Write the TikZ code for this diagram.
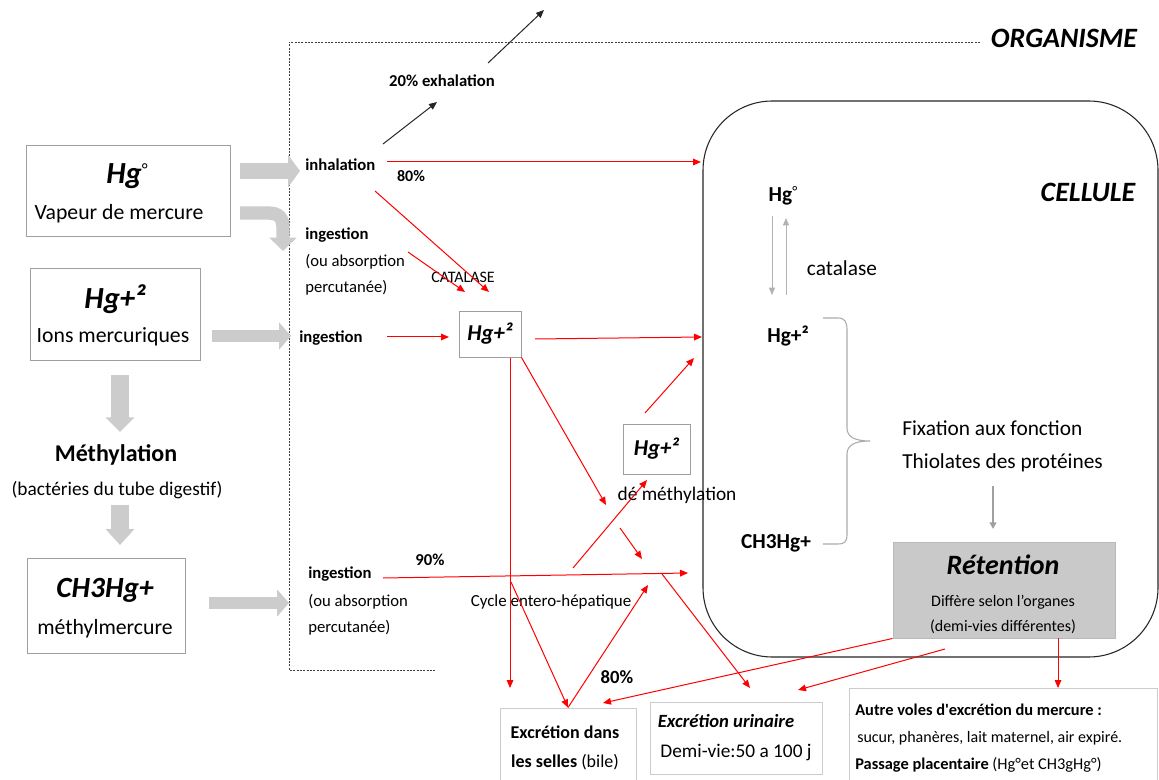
\documentclass[tikz,border=0pt]{standalone}
\usepackage{fontspec}
\setmainfont{Carlito}
\usetikzlibrary{arrows.meta,fit}
\newcommand{\fsz}[1]{\fontsize{#1}{#1}\selectfont}
\tikzset{
 txt/.style={inner sep=0pt, font=\fsz{#1}},
 btxt/.style={inner sep=0pt, font=\fsz{#1}\bfseries},
 bitxt/.style={inner sep=0pt, font=\fsz{#1}\bfseries\itshape},
 boxg/.style={draw=gray!75, line width=0.7pt, inner sep=0pt},
 boxl/.style={draw=gray!40, line width=0.7pt, inner sep=0pt},
 redarr/.style={draw=red, line width=0.75pt, -{Triangle[length=6pt,width=5pt]}},
 blkarr/.style={draw=black!85, line width=0.75pt, -{Triangle[length=6pt,width=5pt]}},
 grayarr/.style={draw=gray!60, line width=0.75pt, -{Triangle[length=5.5pt,width=4.5pt]}},
 blockarr/.style args={#1/#2/#3}{draw=gray!40, line width=#1, -{Triangle[length=#3,width=#2]}},
 orgline/.style={draw=black!75, line width=0.6pt, dash pattern=on 1.5pt off 1pt},
}
\begin{document}
\begin{tikzpicture}[x=0.75pt,y=-0.75pt]
\useasboundingbox (0,0) rectangle (1159,780);
\fill[white] (0,0) rectangle (1159,780);

% ---------- organisme frame ----------
\draw[orgline] (980,42) -- (289,42) -- (289,670) -- (435,670);
\node[bitxt=21pt] (org) at (1064,38) {ORGANISME};

% ---------- cell ----------
\node[fit={(703,101)(1158,657)}, draw=black!85, line width=0.8pt, rounded corners=52pt, inner sep=0pt] (cell) {};
\node[bitxt=21pt] (cellt) at (1088,192) {CELLULE};

% ---------- left boxes ----------
\node[fit={(26,145)(230,236)}, boxg] (b1) {};
\node[inner sep=0pt] (b1a) at (127,176) {\fsz{23pt}\bfseries\itshape Hg\raisebox{6pt}{\fsz{13pt}\normalfont °}};
\node[txt=16.3pt] (b1b) at (119,214) {Vapeur de mercure};

\node[fit={(30,268)(200,360)}, boxg] (b2) {};
\node[bitxt=23pt] (b2a) at (115,299) {Hg+²};
\node[txt=16.3pt] (b2b) at (113,337) {Ions mercuriques};

\node[btxt=18pt] (meth) at (116,455) {Méthylation};
\node[txt=14.5pt] (bact) at (117,490) {(bactéries du tube digestif)};

\node[fit={(27,558)(185,653)}, boxg] (b3) {};
\node[bitxt=22pt] (b3a) at (105,590) {CH3Hg+};
\node[txt=16.3pt] (b3b) at (105,629) {méthylmercure};

% block arrows
\coordinate (ba1s) at (240,171); \coordinate (ba1e) at (300,171);
\draw[blockarr=12pt/24pt/9pt] (ba1s) -- (ba1e);
\coordinate (ba2s) at (240,213); \coordinate (ba2e) at (283,251);
\draw[blockarr=10pt/20pt/10pt] (ba2s) -- (268,213) .. controls (279,213) and (283,218) .. (283,228) -- (ba2e);
\coordinate (ba3s) at (212,336); \coordinate (ba3e) at (291,336);
\draw[blockarr=9pt/20pt/9pt] (ba3s) -- (ba3e);
\coordinate (ba4s) at (209,603); \coordinate (ba4e) at (289,603);
\draw[blockarr=9pt/20pt/9pt] (ba4s) -- (ba4e);
\coordinate (bd1s) at (120,375); \coordinate (bd1e) at (120,432);
\draw[blockarr=13.5pt/21pt/11pt] (bd1s) -- (bd1e);
\coordinate (bd2s) at (120,505); \coordinate (bd2e) at (120,545);
\draw[blockarr=13.5pt/21pt/12pt] (bd2s) -- (bd2e);

% ---------- middle labels ----------
\node[btxt=12.5pt] (exh) at (442,81) {20\% exhalation};
\node[btxt=12.5pt, anchor=west] (inh) at (305,165) {inhalation};
\node[btxt=12pt] (p80a) at (411,176) {80\%};
\node[btxt=12.5pt, anchor=west] (ing1) at (305,235) {ingestion};
\node[txt=12.5pt, anchor=west] (ing1b) at (305,262) {(ou absorption};
\node[txt=12.5pt, anchor=west] (ing1c) at (305,288) {percutanée)};
\node[txt=12pt] (catal) at (463,277) {CATALASE};
\node[btxt=12.5pt, anchor=west] (ing2) at (299,338) {ingestion};

\node[fit={(459,311)(521,357)}, boxg] (hgA) {};
\node[bitxt=17pt] at (hgA) {Hg+²};
\node[fit={(623,424)(690,474)}, boxg] (hgB) {};
\node[bitxt=17pt] at (hgB) {Hg+²};
\node[txt=14.5pt] (demeth) at (677,495) {dé méthylation};

\node[btxt=12.5pt, anchor=west] (ing3) at (308,574) {ingestion};
\node[txt=12.5pt, anchor=west] (ing3b) at (308,602) {(ou absorption};
\node[txt=12.5pt, anchor=west] (ing3c) at (308,628) {percutanée)};
\node[btxt=12.5pt] (p90) at (430,560) {90\%};
\node[txt=12.7pt] (cycle) at (551,602) {Cycle entero-hépatique};
\node[btxt=14pt] (p80b) at (617,677) {80\%};

% ---------- cell contents ----------
\node[inner sep=0pt] (cHg0) at (783,196) {\fsz{16pt}\bfseries Hg\raisebox{4pt}{\fsz{11pt}\normalfont °}};
\node[txt=16pt] (ccat) at (842,268) {catalase};
\node[btxt=16pt] (cHg2) at (788,336) {Hg+²};
\node[btxt=16pt] (cCH3) at (776,543) {CH3Hg+};
\draw[draw=gray!65, line width=0.8pt] (823,318) -- (838,318) .. controls (845,318) and (847,322) .. (847,330) -- (847,428) .. controls (847,437) and (855,441) .. (870,441) coordinate (brtip) .. controls (855,441) and (847,445) .. (847,454) -- (847,535) .. controls (847,541) and (845,544) .. (838,544) -- (823,544);
\node[txt=16pt, anchor=west] (fix1) at (902,428) {Fixation aux fonction};
\node[txt=16pt, anchor=west] (fix2) at (902,463) {Thiolates des protéines};
\coordinate (ga1s) at (772,216); \coordinate (ga1e) at (772,295);
\draw[grayarr] (ga1s) -- (ga1e);
\coordinate (ga2s) at (786,295); \coordinate (ga2e) at (786,218);
\draw[grayarr] (ga2s) -- (ga2e);

\node[fit={(893,542)(1115,638)}, draw=gray!55, fill=gray!42, line width=0.7pt, inner sep=0pt] (ret) {};
\node[bitxt=21pt] (rett) at (1003,565) {Rétention};
\node[txt=12pt] (ret2) at (1003,602) {Diffère selon l’organes};
\node[txt=12pt] (ret3) at (1003,627) {(demi-vies différentes)};
\coordinate (fa1s) at (993,486); \coordinate (fa1e) at (993,529);
\draw[draw=gray!75, line width=1.3pt, -{Triangle[length=5pt,width=5pt]}] (fa1s) -- (fa1e);

% ---------- bottom boxes ----------
\node[fit={(500,708)(636,781)}, boxl] (selles) {};
\node[btxt=13.5pt] (sel1) at (565,732) {Excrétion dans};
\node[inner sep=0pt] (sel2) at (565,762) {\fsz{13.5pt}\textbf{les selles} (bile)};
\node[fit={(650,702)(822,774)}, boxl] (urin) {};
\node[bitxt=14pt] (ur1) at (726,721) {Excrétion urinaire};
\node[txt=14.5pt] (ur2) at (736,752) {Demi-vie:50 a 100 j};
\node[fit={(849,688)(1157,781)}, boxl] (autres) {};
\node[btxt=12.3pt, anchor=west] (au1) at (855,710) {Autre voles d\textquotesingle excrétion du mercure :};
\node[txt=12pt, anchor=west] (au2) at (857,738) {sucur, phanères, lait maternel, air expiré.};
\node[inner sep=0pt, anchor=west] (au3) at (855,765) {\fsz{12.3pt}\textbf{Passage placentaire} (Hg°et CH3gHg°)};

% ---------- black arrows ----------
\coordinate (ex1s) at (383,144); \coordinate (ex1e) at (437,102);
\draw[blkarr] (ex1s) -- (ex1e);
\coordinate (ex2s) at (488,63); \coordinate (ex2e) at (544,10);
\draw[blkarr] (ex2s) -- (ex2e);

% ---------- red arrows ----------
\coordinate (r1s) at (387,162); \coordinate (r1e) at (701,162);
\draw[redarr] (r1s) -- (r1e);
\coordinate (r2s) at (375,191); \coordinate (r2e) at (489,292);
\draw[redarr] (r2s) -- (r2e);
\coordinate (r3s) at (408,252); \coordinate (r3e) at (465,292);
\draw[redarr] (r3s) -- (r3e);
\coordinate (r4s) at (387,337); \coordinate (r4e) at (449,337);
\draw[redarr] (r4s) -- (r4e);
\coordinate (r5s) at (535,339); \coordinate (r5e) at (702,337);
\draw[redarr] (r5s) -- (r5e);
\coordinate (r6s) at (510,358); \coordinate (r6e) at (510,688);
\draw[redarr] (r6s) -- (r6e);
\coordinate (r7e) at (606,505);
\draw[redarr] (hgA.south east) -- (r7e);
\coordinate (r8s) at (645,413); \coordinate (r8e) at (694,358);
\draw[redarr] (r8s) -- (r8e);
\coordinate (r9s) at (573,568); \coordinate (r9e) at (647,480);
\draw[redarr] (r9s) -- (r9e);
\coordinate (r10s) at (620,528); \coordinate (r10e) at (642,559);
\draw[redarr] (r10s) -- (r10e);
\coordinate (r11s) at (383,578); \coordinate (r11e) at (688,573);
\draw[redarr] (r11s) -- (r11e);
\coordinate (r12s) at (511,582);
\draw[redarr] (r12s) -- (selles.north);
\coordinate (r13e) at (648,585);
\draw[redarr] (selles.north) -- (r13e);
\coordinate (r14s) at (662,574); \coordinate (r14e) at (750,688);
\draw[redarr] (r14s) -- (r14e);
\coordinate (r15e) at (603,703);
\draw[redarr] (ret.south west) -- (r15e);
\coordinate (r16s) at (945,649); \coordinate (r16e) at (798,690);
\draw[redarr] (r16s) -- (r16e);
\coordinate (r17s) at (1058,638); \coordinate (r17e) at (1058,688);
\draw[redarr] (r17s) -- (r17e);
\end{tikzpicture}
\end{document}
